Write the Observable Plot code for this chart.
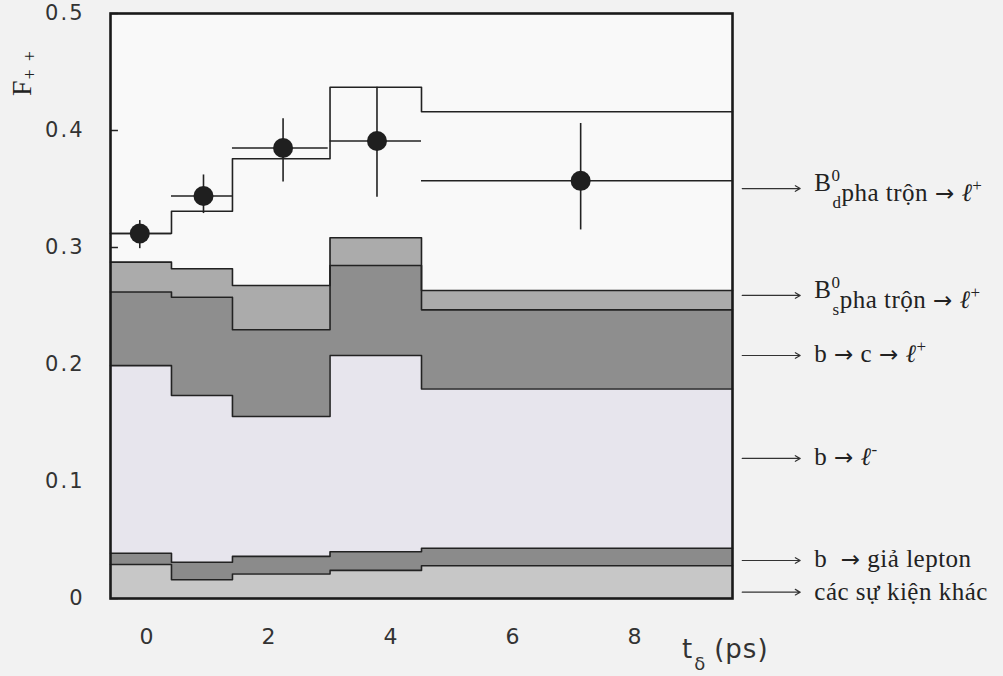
<!DOCTYPE html>
<html><head><meta charset="utf-8">
<script src="https://cdn.jsdelivr.net/npm/d3@7"></script>
<script src="https://cdn.jsdelivr.net/npm/@observablehq/plot@0.6"></script>
<style>
html,body{margin:0;padding:0;background:#f2f2f2;}
#chart svg{display:block;}
</style></head><body><div id="chart"></div>
<script>
// bin edges along t_delta (ps)
const binEdges = [-0.6, 0.4, 1.4, 3.0, 4.5, 9.6];
// cumulative tops of each stacked component, per bin
const otherEvents = [0.029, 0.016, 0.021, 0.024, 0.028];
const fakeLepton  = [0.0387, 0.031, 0.036, 0.040, 0.043];
const bToLminus   = [0.199, 0.1735, 0.1556, 0.2077, 0.179];
const bToCToLplus = [0.262, 0.2575, 0.2297, 0.2846, 0.2467];
const bsMixing    = [0.2875, 0.2818, 0.2675, 0.3083, 0.2632];
const bdMixing    = [0.312, 0.331, 0.3758, 0.437, 0.416];

// data points with errors
const pointX   = [-0.12, 0.925, 2.23, 3.77, 7.11];
const pointF   = [0.312, 0.344, 0.385, 0.391, 0.357];
const pointLo  = [0.299, 0.329, 0.356, 0.343, 0.315];
const pointHi  = [0.323, 0.362, 0.410, 0.437, 0.406];
const pointXLo = [-0.6, 0.4, 1.4, 3.0, 4.5];
const pointXHi = [0.4, 1.4, 2.97, 4.5, 9.6];

const xTicks = [0, 2, 4, 6, 8];
const yTicks = [0, 0.1, 0.2, 0.3, 0.4, 0.5];
const yTickLabels = ["0", "0.1", "0.2", "0.3", "0.4", "0.5"];

// annotation arrows on the right
const annotY = [0.3504, 0.259, 0.2077, 0.1197, 0.0325, 0.0054];
const annotLabels = [
  [{t:"B"},{t:"0",sup:true},{t:"d",sub:true,back:true},{t:"pha trộn "},{t:"→",arrow:true},{t:" "},{t:"ℓ",it:true},{t:"+",sup:true}],
  [{t:"B"},{t:"0",sup:true},{t:"s",sub:true,back:true},{t:"pha trộn "},{t:"→",arrow:true},{t:" "},{t:"ℓ",it:true},{t:"+",sup:true}],
  [{t:"b "},{t:"→",arrow:true},{t:" c "},{t:"→",arrow:true},{t:" "},{t:"ℓ",it:true},{t:"+",sup:true}],
  [{t:"b "},{t:"→",arrow:true},{t:" "},{t:"ℓ",it:true},{t:"-",sup:true}],
  [{t:"b  "},{t:"→",arrow:true},{t:" giả lepton"}],
  [{t:"các sự kiện khác"}]
];
const annotBaseline = [3, 3, 7, 7, 7, 8];

const rows = binEdges.map((x, i) => {
  const k = Math.min(i, binEdges.length - 2);
  return {x, other: otherEvents[k], fake: fakeLepton[k], bl: bToLminus[k],
          bcl: bToCToLplus[k], bs: bsMixing[k], bd: bdMixing[k]};
});
const pts = pointX.map((x, i) => ({x, f: pointF[i], lo: pointLo[i], hi: pointHi[i], xlo: pointXLo[i], xhi: pointXHi[i]}));
const ann = annotY.map((y, i) => ({y, i}));

const lineColor = "#222";
const step = {x: "x", curve: "step-after"};

const svg = Plot.plot({
  width: 1003, height: 676,
  marginLeft: 110, marginRight: 271, marginTop: 13, marginBottom: 78,
  style: {background: "#f2f2f2", fontFamily: "DejaVu Sans", color: "#333"},
  x: {domain: [-0.6, 9.6], axis: null},
  y: {domain: [0, 0.5], axis: null},
  marks: [
    Plot.frame({fill: "#f9f9f9", stroke: "none"}),
    Plot.ruleY(yTicks, {y: d => d, x1: -0.6, x2: -0.47, stroke: lineColor, strokeWidth: 1.5}),
    Plot.axisY(yTicks, {tickSize: 0, tickPadding: 26, tickFormat: (d, i) => yTickLabels[i], fontSize: 21, fill: "#333"}),
    Plot.axisX(xTicks, {tickSize: 0, tickPadding: 30, fontSize: 22, fill: "#333"}),
    Plot.areaY(rows, {...step, y1: () => 0, y2: "other", fill: "#c7c7c7"}),
    Plot.areaY(rows, {...step, y1: "other", y2: "fake", fill: "#8b8b8b"}),
    Plot.areaY(rows, {...step, y1: "fake", y2: "bl", fill: "#e7e5ed"}),
    Plot.areaY(rows, {...step, y1: "bl", y2: "bcl", fill: "#8e8e8e"}),
    Plot.areaY(rows, {...step, y1: "bcl", y2: "bs", fill: "#ababab"}),
    Plot.lineY(rows, {...step, y: "other", stroke: lineColor, strokeWidth: 1.6}),
    Plot.lineY(rows, {...step, y: "fake", stroke: lineColor, strokeWidth: 1.6}),
    Plot.lineY(rows, {...step, y: "bl", stroke: lineColor, strokeWidth: 1.6}),
    Plot.lineY(rows, {...step, y: "bcl", stroke: lineColor, strokeWidth: 1.6}),
    Plot.lineY(rows, {...step, y: "bs", stroke: lineColor, strokeWidth: 1.6}),
    Plot.lineY(rows, {...step, y: "bd", stroke: lineColor, strokeWidth: 1.6}),
    Plot.ruleX(pts, {x: "x", y1: "lo", y2: "hi", stroke: lineColor, strokeWidth: 1.6}),
    Plot.ruleY(pts, {y: "f", x1: "xlo", x2: "xhi", stroke: lineColor, strokeWidth: 1.6}),
    Plot.dot(pts, {x: "x", y: "f", r: 10, fill: "#1f1f1f", stroke: "none"}),
    Plot.frame({stroke: "#1a1a1a", strokeWidth: 2.6}),
    Plot.arrow(ann, {x1: 9.76, x2: 10.71, y1: "y", y2: "y", stroke: "#333", strokeWidth: 1.2, headLength: 7})
  ]
});

document.getElementById("chart").appendChild(svg);

const xs = svg.scale("x"), ys = svg.scale("y");
const root = d3.select(svg);
root.selectAll("[aria-label='y-axis tick label'] text").style("letter-spacing", "2px");
root.selectAll("[aria-label='x-axis tick label'] text").style("letter-spacing", "1px");

// right-side annotation labels
const serif = "'Liberation Serif', 'Times New Roman', serif";
const fs = 25, sfs = 17;
annotLabels.forEach((segs, i) => {
  const t = root.append("text")
    .attr("x", xs.apply(10.95))
    .attr("y", ys.apply(annotY[i]) + annotBaseline[i])
    .attr("text-anchor", "start")
    .attr("font-family", serif)
    .attr("font-size", fs)
    .attr("letter-spacing", "0.5px")
    .attr("fill", "#222");
  let shift = 0;
  segs.forEach(s => {
    const sp = t.append("tspan").text(s.t);
    if (s.sup) {
      sp.attr("font-size", sfs).attr("dy", -10 - shift); shift = -10;
    } else if (s.sub) {
      sp.attr("font-size", sfs).attr("dy", 17 - shift); shift = 7;
      if (s.back) sp.attr("dx", -8);
    } else {
      if (shift !== 0) sp.attr("dy", -shift);
      shift = 0;
    }
    if (s.it) sp.attr("font-style", "italic");
    if (s.arrow) sp.attr("font-family", "DejaVu Sans").attr("font-size", 23);
  });
});

// y label F++
const yl = root.append("text")
  .attr("transform", "translate(31,96) rotate(-90)")
  .attr("text-anchor", "start")
  .attr("font-family", serif).attr("font-size", 28).attr("fill", "#222");
yl.append("tspan").text("F");
yl.append("tspan").text("+").attr("font-size", 18).attr("dy", 5).attr("dx", 1);
yl.append("tspan").text("+").attr("font-size", 18).attr("dx", 8);

// x label t_delta (ps)
const xl = root.append("text")
  .attr("x", 682).attr("y", 658)
  .attr("text-anchor", "start")
  .attr("font-family", "DejaVu Sans").attr("font-size", 26).attr("fill", "#333");
xl.append("tspan").text("t");
xl.append("tspan").text("δ").attr("font-size", 18).attr("dy", 12).attr("dx", 2);
xl.append("tspan").text("(ps)").attr("dy", -12).attr("dx", 9).attr("letter-spacing", "1px");
</script>
</body></html>
